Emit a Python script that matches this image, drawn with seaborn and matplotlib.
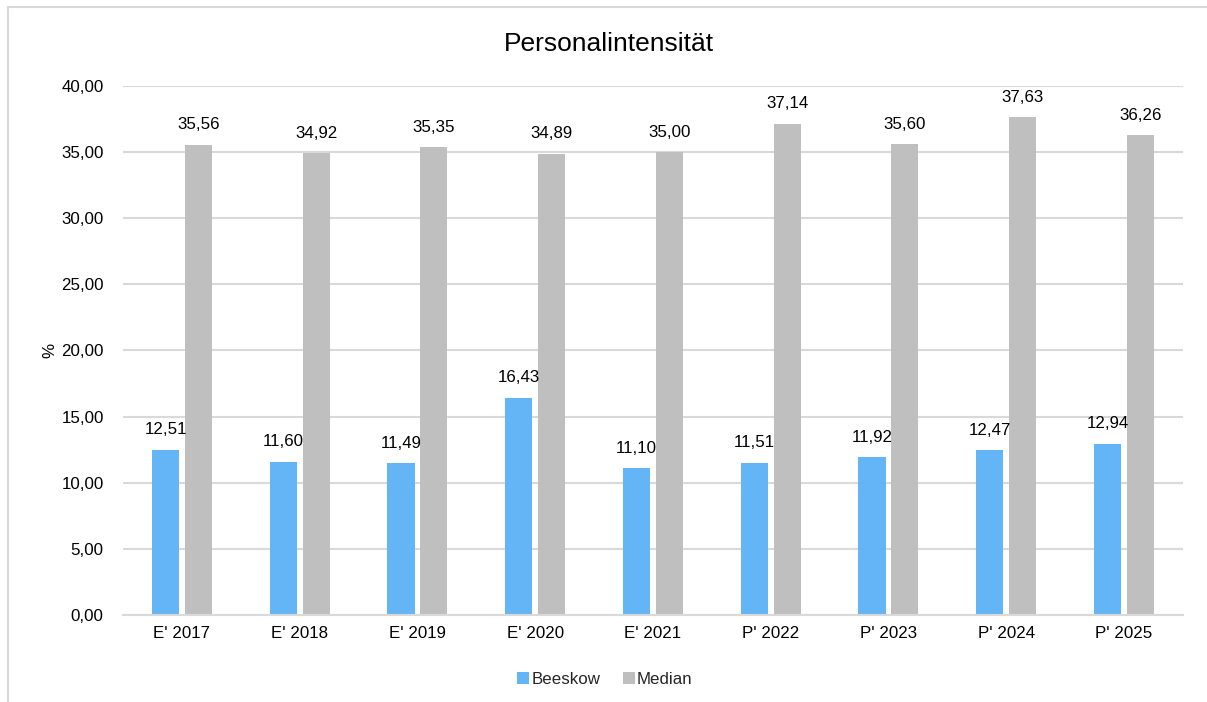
import matplotlib
matplotlib.use("Agg")
import matplotlib.pyplot as plt
import seaborn as sns
import pandas as pd
from matplotlib.patches import Rectangle

categories = ["E' 2017", "E' 2018", "E' 2019", "E' 2020", "E' 2021",
              "P' 2022", "P' 2023", "P' 2024", "P' 2025"]
beeskow = [12.51, 11.60, 11.49, 16.43, 11.10, 11.51, 11.92, 12.47, 12.94]
median = [35.56, 34.92, 35.35, 34.89, 35.00, 37.14, 35.60, 37.63, 36.26]
series_names = ["Beeskow", "Median"]
colors = ["#63b5f6", "#bfbfbf"]
yticks = [0, 5, 10, 15, 20, 25, 30, 35, 40]

df = pd.DataFrame({
    "Kategorie": categories * 2,
    "Wert": beeskow + median,
    "Serie": [series_names[0]] * len(categories) + [series_names[1]] * len(categories),
})

sns.set_theme(style="white")
plt.rcParams['font.family'] = ['Liberation Sans', 'DejaVu Sans']

FS = 12.2

fig = plt.figure(figsize=(12.07, 7.02), dpi=100)
ax = fig.add_axes([0.102, 0.124, 0.878, 0.7535])

sns.barplot(data=df, x="Kategorie", y="Wert", hue="Serie", palette=colors,
            width=0.56, gap=0.18, ax=ax, legend=True, saturation=1, linewidth=0)

ax.set_ylim(0, 40)
ax.set_yticks(yticks)
ax.set_yticklabels([f"{v:.2f}".replace(".", ",") for v in yticks], fontsize=FS, color="#000000")
ax.tick_params(axis="x", labelsize=FS, colors="#000000", length=0, pad=8)
ax.tick_params(axis="y", length=0, pad=14)
ax.set_xlabel("")
ax.set_ylabel("%", fontsize=FS, color="#000000")
ax.yaxis.set_label_coords(-0.062, 0.5)
ax.grid(axis="y", color="#d9d9d9", linewidth=1.5)
ax.set_axisbelow(True)
for s in ["top", "right", "left"]:
    ax.spines[s].set_visible(False)
ax.spines["bottom"].set_color("#d9d9d9")
ax.spines["bottom"].set_linewidth(1.5)
ax.set_xlim(-0.5, len(categories) - 0.5)

for cont in ax.containers:
    labels = [f"{b.get_height():.2f}".replace(".", ",") for b in cont]
    ax.bar_label(cont, labels=labels, padding=9, fontsize=FS, color="#000000")

fig.text(609 / 1207, 1 - 44 / 702, "Personalintensität", fontsize=19, color="#000000",
         ha="center", va="center")

leg = ax.legend(loc="center", bbox_to_anchor=(605 / 1207, 1 - 679 / 702),
                bbox_transform=fig.transFigure, ncol=2, frameon=False,
                fontsize=FS, handlelength=0.7, handleheight=0.7, handletextpad=0.15,
                columnspacing=1.3)

fig.patches.append(Rectangle((8 / 1207, -0.1), 1.2, 1 - 7 / 702 + 0.1,
                             transform=fig.transFigure, fill=False,
                             edgecolor="#d9d9d9", linewidth=1.5, zorder=-1))

fig.savefig("out.png", dpi=100)
